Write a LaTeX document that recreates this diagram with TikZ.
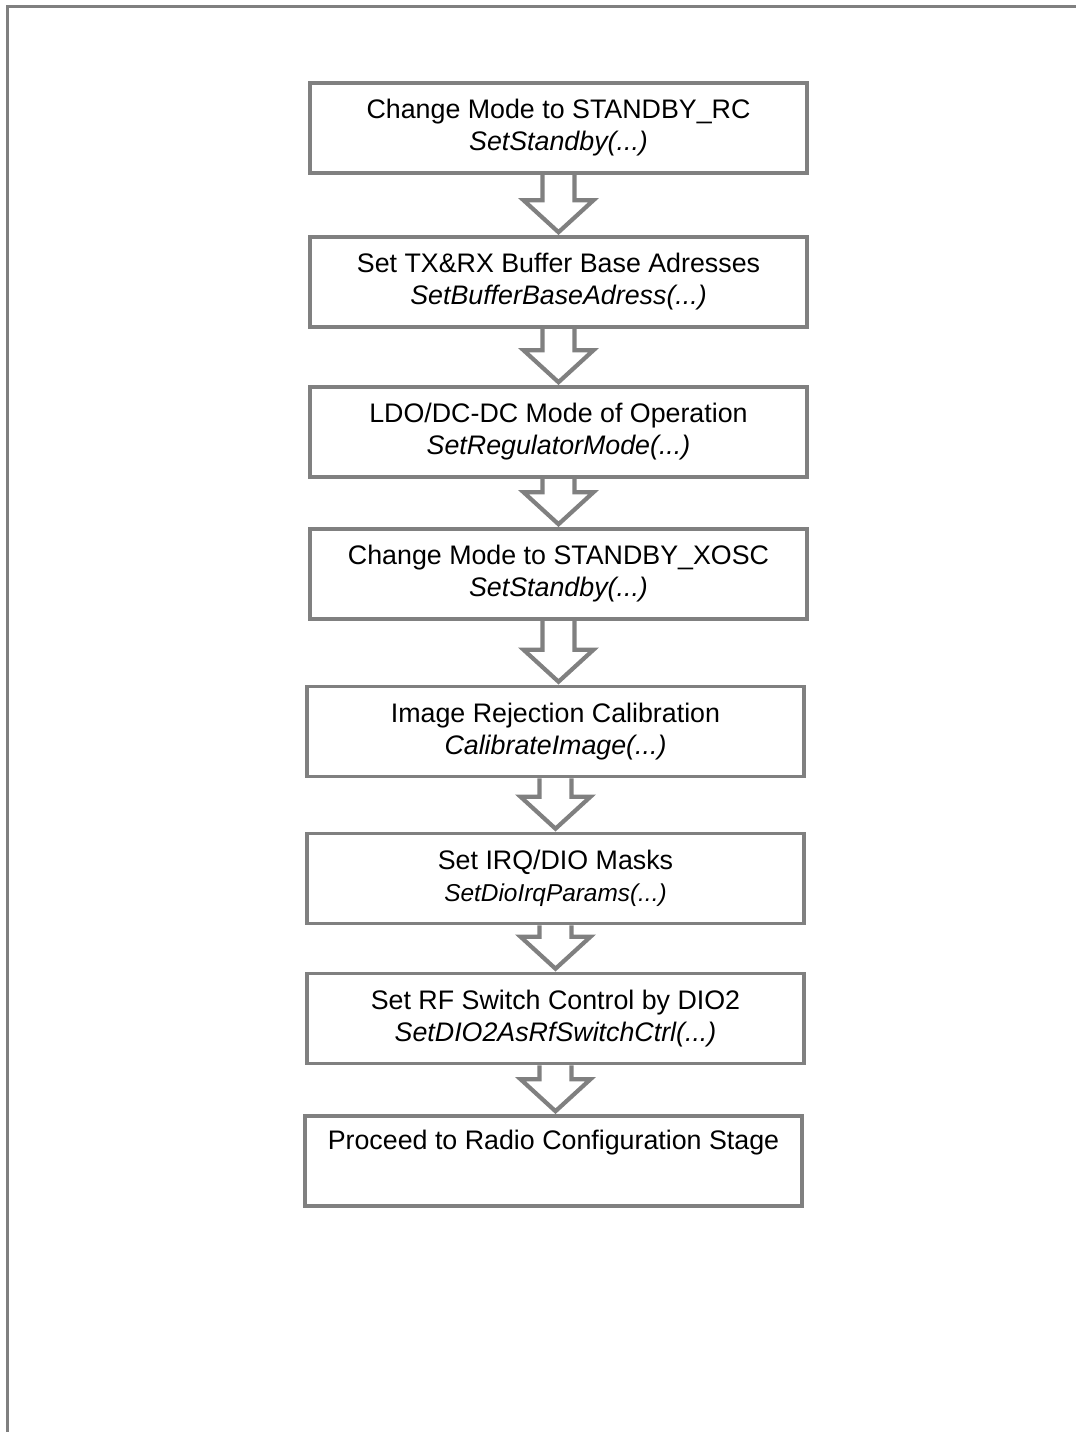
\documentclass[tikz,border=0pt]{standalone}
\usepackage{fontspec}
\setmainfont{Liberation Sans}
\usetikzlibrary{calc}

\tikzset{
  stagebox/.style={draw=framegray, line width=1.8pt, minimum width=248.5pt, minimum height=45pt,
    align=center, inner sep=0pt, font=\fontsize{13.4}{16}\selectfont},
  blockarrow/.style={draw=framegray, line width=2.1pt, line join=miter},
}
\colorlet{framegray}{black!50}

% hollow block arrow from the bottom of one box to the top of the next
\newcommand{\blockarrow}[2]{%
  \draw[blockarrow] ($(#1.south)+(-16,0)$) -- ($(#1.south |- #2.north)+(-16,-35)$)
    -- ($(#1.south |- #2.north)+(-35,-35)$) -- ($(#1.south |- #2.north)+(0,-3)$)
    -- ($(#1.south |- #2.north)+(35,-35)$) -- ($(#1.south |- #2.north)+(16,-35)$)
    -- ($(#1.south)+(16,0)$);}

\begin{document}
\begin{tikzpicture}[x=0.5pt, y=-0.5pt]
  \useasboundingbox (0,0) rectangle (1076,1432);
  \draw[framegray, line width=1.5pt] (7.5,1440) -- (7.5,6.5) -- (1090,6.5);

  \node[stagebox] (standbyrc) at (558.5,128) {Change Mode to STANDBY\_RC\\\textit{SetStandby(...)}};
  \node[stagebox] (buffer) at (558.5,282) {Set TX\&RX Buffer Base Adresses\\\textit{SetBufferBaseAdress(...)}};
  \node[stagebox] (regulator) at (558.5,432) {LDO/DC-DC Mode of Operation\\\textit{SetRegulatorMode(...)}};
  \node[stagebox] (standbyxosc) at (558.5,574) {Change Mode to STANDBY\_XOSC\\\textit{SetStandby(...)}};
  \node[stagebox] (calib) at (555.5,731.5) {Image Rejection Calibration\\\textit{CalibrateImage(...)}};
  \node[stagebox] (irq) at (555.5,878.5) {Set IRQ/DIO Masks\\{\fontsize{12.2}{15}\selectfont\textit{SetDioIrqParams(...)}}};
  \node[stagebox] (rfswitch) at (555.5,1018.5) {Set RF Switch Control by DIO2\\\textit{SetDIO2AsRfSwitchCtrl(...)}};
  \node[stagebox] (proceed) at (553.5,1161) {Proceed to Radio Configuration Stage\\\strut};

  \blockarrow{standbyrc}{buffer}
  \blockarrow{buffer}{regulator}
  \blockarrow{regulator}{standbyxosc}
  \blockarrow{standbyxosc}{calib}
  \blockarrow{calib}{irq}
  \blockarrow{irq}{rfswitch}
  \blockarrow{rfswitch}{proceed}

\end{tikzpicture}
\end{document}
